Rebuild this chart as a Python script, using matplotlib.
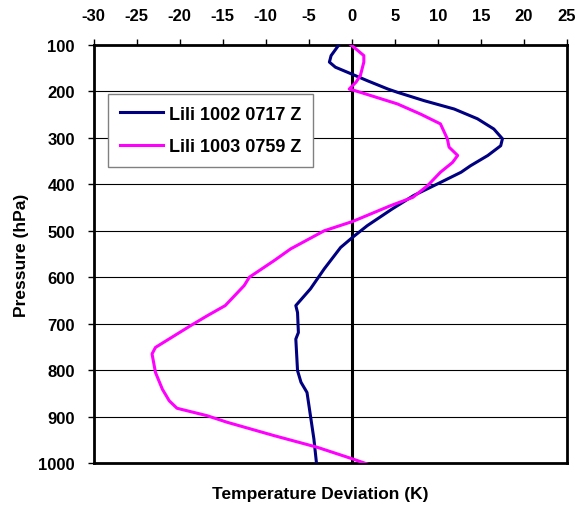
import matplotlib.pyplot as plt
import numpy as np

plt.rcParams['font.family'] = ['Liberation Sans', 'DejaVu Sans']
plt.rcParams['font.weight'] = 'bold'
plt.rcParams['axes.unicode_minus'] = False

# Lili 1002 0717 Z (navy)
p1 = [100, 123, 137, 148, 162, 177, 195, 202, 220, 238, 259, 281, 302, 317, 338,
      360, 374, 396, 424, 453, 489, 514, 536, 582, 625, 661, 676, 719, 733, 801,
      826, 848, 898, 948, 1000]
t1 = [-1.5, -2.4, -2.6, -1.9, -0.1, 1.8, 4.2, 5.3, 8.4, 11.9, 14.6, 16.5, 17.5, 17.3, 15.8,
      13.8, 12.7, 10.3, 7.2, 4.7, 1.8, 0.1, -1.3, -3.2, -4.8, -6.5, -6.3, -6.2, -6.5, -6.3,
      -5.9, -5.2, -4.8, -4.4, -4.1]

# Lili 1003 0759 Z (magenta)
p2 = [100, 109, 123, 137, 166, 180, 195, 198, 209, 227, 249, 270, 302, 320, 338,
      353, 374, 403, 428, 446, 480, 500, 539, 564, 600, 618, 661, 683, 704, 751,
      765, 805, 841, 866, 882, 898, 912, 941, 966, 991, 1002]
t2 = [-0.1, 0.5, 1.4, 1.4, 1.0, 0.5, -0.3, 0.3, 2.2, 5.3, 8.0, 10.3, 11.1, 11.3, 12.3,
      11.7, 10.3, 8.8, 7.1, 4.5, 0.1, -3.2, -7.1, -9.0, -11.9, -12.5, -14.7, -16.8, -18.7, -22.8,
      -23.2, -22.8, -22.0, -21.2, -20.3, -16.8, -14.5, -9.0, -4.0, 0.1, 1.8]

labels = ['Lili 1002 0717 Z', 'Lili 1003 0759 Z']
xticks = np.arange(-30, 26, 5)
yticks = np.arange(100, 1001, 100)

fig = plt.figure(figsize=(5.87, 5.10), dpi=100)
ax = fig.add_axes([93.5 / 587, 0.090, 473.5 / 587, 0.820])

for y in yticks[1:-1]:
    ax.axhline(y, color='black', lw=0.8, zorder=1)
ax.axvline(0, color='black', lw=2.2, zorder=2)

ax.plot(t1, p1, color='#000080', lw=2.2, label=labels[0], zorder=3)
ax.plot(t2, p2, color='#ff00ff', lw=2.2, label=labels[1], zorder=3)

ax.set_xlim(-30, 25)
ax.set_ylim(1000, 100)
ax.set_xticks(xticks)
ax.set_yticks(yticks)
ax.xaxis.tick_top()
ax.tick_params(axis='both', labelsize=12, direction='out', length=4.5, width=1)
ax.tick_params(axis='x', pad=11)
ax.tick_params(axis='y', pad=9)
for lab in ax.get_xticklabels() + ax.get_yticklabels():
    lab.set_fontweight('bold')
for s in ax.spines.values():
    s.set_linewidth(2)

leg = ax.legend(loc='upper left', bbox_to_anchor=(0.031, 0.883), borderaxespad=0,
                fontsize=13, frameon=True, fancybox=False, edgecolor='#808080',
                framealpha=1, handlelength=2.4, borderpad=0.65, labelspacing=0.85,
                handletextpad=0.3)
leg.get_frame().set_linewidth(1)
for t in leg.get_texts():
    t.set_fontweight('bold')

fig.text(320 / 587, 1 - 495 / 510, 'Temperature Deviation (K)', ha='center', va='center',
         fontsize=12.5, fontweight='bold')
fig.text(22 / 587, 1 - 255 / 510, 'Pressure (hPa)', ha='center', va='center',
         rotation=90, fontsize=12.5, fontweight='bold')

fig.savefig('out.png', dpi=100)
